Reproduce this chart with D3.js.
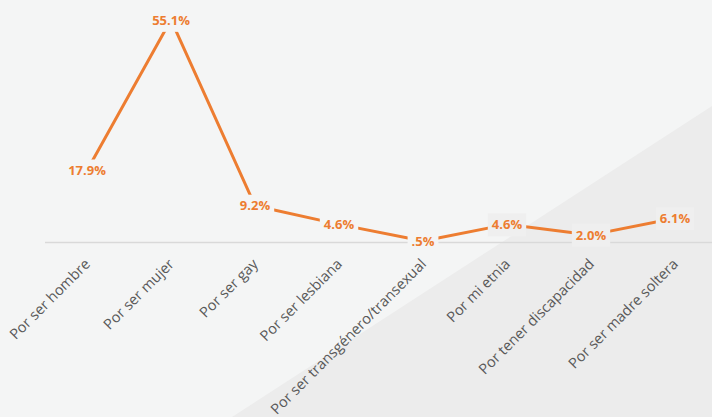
<!DOCTYPE html>
<html lang="es">
<head>
<meta charset="UTF-8">
<title>Chart</title>
<style>
  html, body { margin: 0; padding: 0; background: #f4f5f5; }
  svg { display: block; }
</style>
</head>
<body>
<script src="https://cdnjs.cloudflare.com/ajax/libs/d3/7.8.5/d3.min.js"></script>
<script>
    const categories = ["Por ser hombre", "Por ser mujer", "Por ser gay", "Por ser lesbiana",
        "Por ser transgénero/transexual", "Por mi etnia", "Por tener discapacidad", "Por ser madre soltera"]
    const values = [17.9, 55.1, 9.2, 4.6, 0.5, 4.6, 2.0, 6.1]
    const valueLabels = ["17.9%", "55.1%", "9.2%", "4.6%", ".5%", "4.6%", "2.0%", "6.1%"]

    const width = 712
    const height = 417

    let svg = d3.select("body").append("svg")
        .attr("width", width)
        .attr("height", height)

    // background + diagonal shade
    svg.append("rect").attr("width", width).attr("height", height).attr("fill", "#f4f5f5")
    svg.append("path")
        .attr("d", "M712,106 L712,417 L232,417 Z")
        .attr("fill", "#ececec")

    let x = d3.scaleBand().domain(categories).range([45, 717])
    let y = d3.scaleLinear().domain([0, 60]).range([243, 0])

    // baseline
    svg.append("line")
        .attr("x1", 45).attr("x2", width)
        .attr("y1", y(0) - 0.5).attr("y2", y(0) - 0.5)
        .attr("stroke", "#d9d9d9").attr("stroke-width", 1.5)

    // category labels
    svg.selectAll(".cat").data(categories).enter().append("text")
        .attr("class", "cat")
        .attr("transform", d => `translate(${x(d) + x.bandwidth() / 2 + 4},${265}) rotate(-45)`)
        .attr("text-anchor", "end")
        .attr("font-family", "'Open Sans', sans-serif")
        .attr("font-size", 14.6)
        .attr("fill", "#595959")
        .text(d => d)

    let line = d3.line()
        .x((d, i) => x(categories[i]) + x.bandwidth() / 2)
        .y(d => y(d))

    svg.append("path")
        .datum(values)
        .attr("d", line)
        .attr("fill", "none")
        .attr("stroke", "#ed7d31")
        .attr("stroke-width", 3)
        .attr("stroke-linejoin", "round")

    let lab = svg.selectAll(".lab").data(values).enter().append("g")
        .attr("class", "lab")
        .attr("transform", (d, i) => `translate(${x(categories[i]) + x.bandwidth() / 2},${y(d)})`)

    lab.append("rect")
        .attr("x", (d, i) => -(valueLabels[i].length * 7.6) / 2 - 4)
        .attr("y", -11)
        .attr("width", (d, i) => valueLabels[i].length * 7.6 + 8)
        .attr("height", 23)
        .attr("fill", (d, i) => i >= 5 ? "#efefef" : "#f4f5f5")

    lab.append("text")
        .attr("text-anchor", "middle")
        .attr("dy", "0.36em")
        .attr("font-family", "'Open Sans', sans-serif")
        .attr("font-weight", "bold")
        .attr("font-size", 13)
        .attr("fill", "#ed7d31")
        .text((d, i) => valueLabels[i])
</script>
</body>
</html>
